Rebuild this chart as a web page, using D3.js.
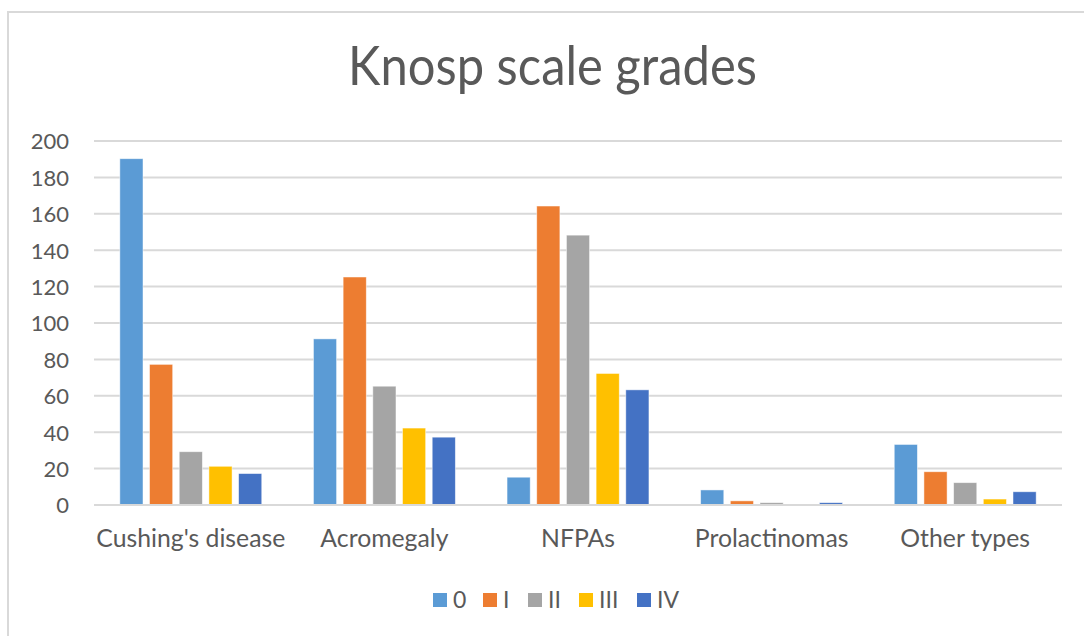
<!DOCTYPE html>
<html><head><meta charset="utf-8">
<script src="https://cdn.jsdelivr.net/npm/d3@7"></script>
<style>html,body{margin:0;padding:0;background:#fff;}svg{display:block;}</style>
</head><body>
<svg id="c" width="1084" height="636"></svg>
<script>
const categories = ["Cushing's disease", "Acromegaly", "NFPAs", "Prolactinomas", "Other types"];
const seriesNames = ["0", "I", "II", "III", "IV"];
const grade0 = [190, 91, 15, 8, 33];
const grade1 = [77, 125, 164, 2, 18];
const grade2 = [29, 65, 148, 1, 12];
const grade3 = [21, 42, 72, 0, 3];
const grade4 = [17, 37, 63, 1, 7];
const yTicks = [0, 20, 40, 60, 80, 100, 120, 140, 160, 180, 200];
const colors = ["#5B9BD5", "#ED7D31", "#A5A5A5", "#FFC000", "#4472C4"];
const chartTitle = "Knosp scale grades";

(function () {
const seriesValues = [grade0, grade1, grade2, grade3, grade4];
const FONT = "Lato, 'Open Sans', sans-serif";
const TXT = "#595959";
const GRID = "#D9D9D9";

const svg = d3.select("#c");
svg.append("rect").attr("x", 8).attr("y", 12).attr("width", 1090).attr("height", 640)
  .attr("fill", "#fff").attr("stroke", GRID).attr("stroke-width", 2);

const pLeft = 94, pRight = 1062, pTop = 141, pBottom = 505;
const y = d3.scaleLinear().domain([0, 200]).range([pBottom, pTop]);
const x0 = d3.scaleBand().domain(categories).range([pLeft, pRight]).paddingInner(0.267).paddingOuter(0.1335);
const x1 = d3.scaleBand().domain(seriesNames).range([0, x0.bandwidth()]).paddingInner(0.22);

function fitText(sel, target) {
  let fs = parseFloat(sel.attr("font-size"));
  for (let i = 0; i < 4; i++) {
    const w = sel.node().getComputedTextLength();
    fs = fs * target / w;
    sel.attr("font-size", fs);
  }
  return fs;
}

// gridlines
svg.append("g").selectAll("line").data(yTicks.filter(d => d > 0)).join("line")
  .attr("x1", pLeft).attr("x2", pRight).attr("y1", d => y(d)).attr("y2", d => y(d))
  .attr("stroke", GRID).attr("stroke-width", 2);

// bars
const data = [];
categories.forEach((c, i) => seriesNames.forEach((s, j) => data.push({c, s, j, v: seriesValues[j][i]})));
svg.append("g").selectAll("rect").data(data).join("rect")
  .attr("x", d => x0(d.c) + x1(d.s)).attr("width", x1.bandwidth())
  .attr("y", d => y(d.v) - 0.5).attr("height", d => Math.max(0, y(0) - y(d.v)))
  .attr("fill", d => colors[d.j]).attr("stroke", "#fff").attr("stroke-opacity", 0.6).attr("stroke-width", 0.8);

// baseline axis
svg.append("line").attr("x1", pLeft).attr("x2", pRight).attr("y1", y(0)).attr("y2", y(0))
  .attr("stroke", GRID).attr("stroke-width", 2);

// y axis labels
const yAxis = d3.axisLeft(y).tickValues(yTicks).tickSize(0).tickPadding(0);
const ya = svg.append("g").attr("transform", "translate(69,0)").call(yAxis);
ya.select(".domain").remove();
ya.selectAll("text").attr("font-family", FONT).attr("font-size", 22).attr("fill", TXT).attr("dy", "0.36em");

// x axis labels
const xAxis = d3.axisBottom(x0).tickSize(0).tickPadding(0);
const xa = svg.append("g").attr("transform", "translate(0,547)").call(xAxis);
xa.select(".domain").remove();
xa.selectAll("text").attr("font-family", FONT).attr("fill", TXT).attr("dy", 0).attr("font-size", 22);
const first = xa.select("text");
const xfs = fitText(first, 189);
xa.selectAll("text").attr("font-size", xfs);

// title (slightly stretched vertically to mimic the taller, narrower original face)
const tg = svg.append("g").attr("transform", "translate(552.5,85) scale(1,1.12)");
const t = tg.append("text").attr("x", 0).attr("y", 0).attr("text-anchor", "middle")
  .attr("font-family", FONT).attr("font-size", 44).attr("fill", TXT).text(chartTitle);
fitText(t, 409);

// legend
const legendX = [433, 483, 528, 579, 637];
const lg = svg.append("g");
seriesNames.forEach((s, j) => {
  lg.append("rect").attr("x", legendX[j]).attr("y", 593).attr("width", 14).attr("height", 14).attr("fill", colors[j]);
  lg.append("text").attr("x", legendX[j] + 20).attr("y", 608).attr("font-family", FONT).attr("font-size", 23)
    .attr("fill", TXT).text(s);
});
})();
</script>
</body></html>
